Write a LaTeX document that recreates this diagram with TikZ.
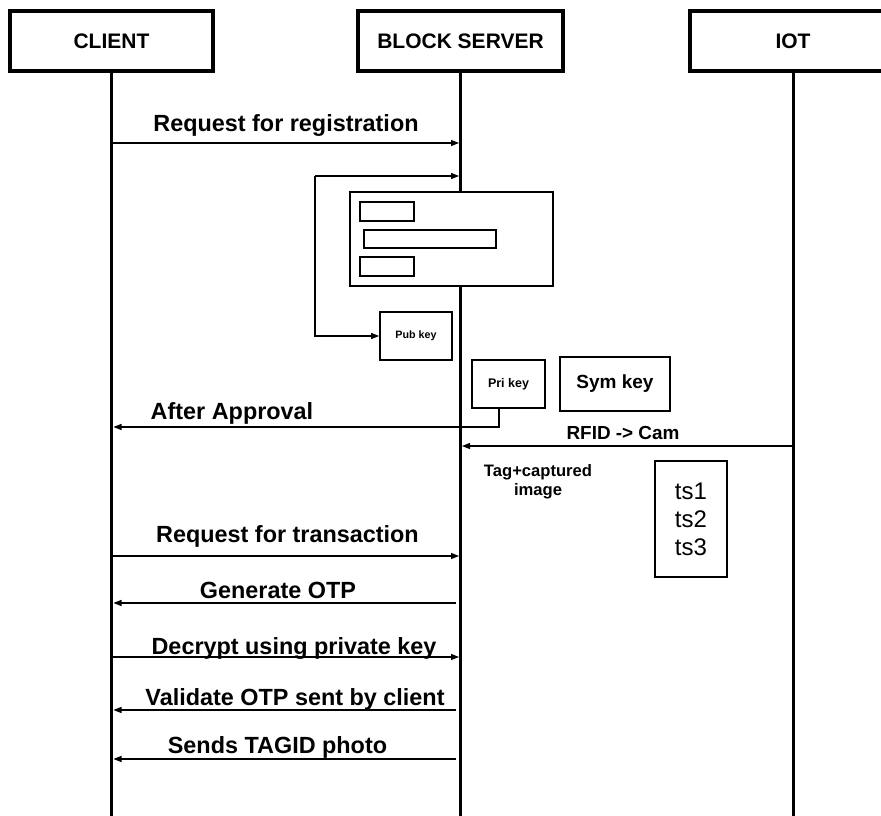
\documentclass[tikz,border=0pt]{standalone}
\usepackage{fontspec}
\setmainfont{Liberation Sans}
\usetikzlibrary{arrows.meta,positioning}
\tikzset{
  lifebox/.style={draw=black, line width=3.5pt, fill=white, minimum width=203pt,
    minimum height=60pt, font=\fontsize{21}{24}\selectfont\bfseries},
  lifeline/.style={line width=3pt},
  msg/.style={-{Triangle[length=8pt,width=6pt]}, line width=1.2pt},
  msglabel/.style={anchor=base, font=\fontsize{23.4}{26}\selectfont\bfseries},
  keybox/.style={draw=black, line width=1.8pt, fill=white, inner sep=0pt},
  slot/.style={draw=black, line width=2pt, fill=white, inner sep=0pt}
}
\begin{document}
\begin{tikzpicture}[x=1pt, y=-1pt]
  \useasboundingbox[fill=white] (0,0) rectangle (881,816);
  % participants
  \node[lifebox] (client) at (111.5,41) {CLIENT};
  \node[lifebox, minimum width=205pt] (server) at (460.5,41) {BLOCK SERVER};
  \node[lifebox, minimum width=206pt] (iot) at (793,41) {IOT};
  \coordinate (clientEnd) at (client |- 0,816);
  \coordinate (serverEnd) at (server |- 0,816);
  \coordinate (iotEnd) at (iot |- 0,816);
  \draw[lifeline] (client.south) -- (clientEnd);
  \draw[lifeline] (server.south) -- (serverEnd);
  \draw[lifeline] (iot.south) -- (iotEnd);

  % registration
  \coordinate (c1) at (client |- 0,143);
  \coordinate (s1) at ([xshift=-1.5pt]server |- 0,143);
  \draw[msg] (c1) -- (s1);
  \node[msglabel] (reglbl) at (286,131) {Request for registration};

  % block record
  \coordinate (loopTop) at (315,176);
  \coordinate (loopBot) at (315,336);
  \coordinate (s2) at ([xshift=-1.5pt]server |- loopTop);
  \node[keybox, minimum width=203pt, minimum height=94pt] (block) at (451.5,239) {};
  \node[slot, minimum width=54pt, minimum height=19pt] (slotA) at (387,211.5) {};
  \node[slot, minimum width=132pt, minimum height=18pt] (slotB) at (430,239) {};
  \node[slot, minimum width=54pt, minimum height=19pt] (slotC) at (387,266.5) {};
  \node[keybox, minimum width=72pt, minimum height=48pt,
    font=\fontsize{10.7}{12}\selectfont\bfseries] (pubkey) at (416,336) {Pub key};
  \draw[msg] (loopTop) -- (s2);
  \draw[msg] (loopTop) -- (loopBot) -- (pubkey.west);

  % keys
  \node[keybox, minimum width=73pt, minimum height=48pt,
    font=\fontsize{12.5}{14}\selectfont\bfseries] (prikey) at (508.5,384) {Pri key};
  \node[keybox, minimum width=110pt, minimum height=54pt,
    font=\fontsize{19}{22}\selectfont\bfseries] (symkey) at (615,384) {Sym key};

  % approval
  \coordinate (appr) at (499,427);
  \coordinate (c3) at ([xshift=2pt]client |- appr);
  \draw[msg] (prikey.south -| appr) -- (appr) -- (c3);
  \node[msglabel] (apprlbl) at (232,419) {After Approval};

  % iot
  \coordinate (i4) at (iot |- 0,446);
  \coordinate (s4) at ([xshift=1.5pt]server |- i4);
  \draw[msg] (i4) -- (s4);
  \node[msglabel, font=\fontsize{18.9}{22}\selectfont\bfseries] (rfidlbl) at (623,439) {RFID -> Cam};
  \node[align=center, font=\fontsize{16.6}{19}\selectfont\bfseries] (taglbl) at (538,482) {Tag+captured\\image};
  \node[draw=black, line width=1.8pt, minimum width=72pt, minimum height=116pt,
    align=center, font=\fontsize{24}{28}\selectfont] (stamps) at (691,519) {ts1\\ts2\\ts3};

  % transaction
  \coordinate (c5) at (client |- 0,556);
  \coordinate (s5) at ([xshift=-1.5pt]server |- c5);
  \draw[msg] (c5) -- (s5);
  \node[msglabel] (txlbl) at (287.5,542) {Request for transaction};

  \coordinate (s6) at ([xshift=-5pt]server |- 0,603);
  \coordinate (c6) at ([xshift=2pt]client |- s6);
  \draw[msg] (s6) -- (c6);
  \node[msglabel] (otplbl) at (278,598) {Generate OTP};

  \coordinate (c7) at (client |- 0,657);
  \coordinate (s7) at ([xshift=-1.5pt]server |- c7);
  \draw[msg] (c7) -- (s7);
  \node[msglabel] (declbl) at (294,654) {Decrypt using private key};

  \coordinate (s8) at ([xshift=-5pt]server |- 0,710);
  \coordinate (c8) at ([xshift=2pt]client |- s8);
  \draw[msg] (s8) -- (c8);
  \node[msglabel] (vallbl) at (295,705) {Validate OTP sent by client};

  \coordinate (s9) at ([xshift=-5pt]server |- 0,759);
  \coordinate (c9) at ([xshift=2pt]client |- s9);
  \draw[msg] (s9) -- (c9);
  \node[msglabel] (photolbl) at (277.5,753) {Sends TAGID photo};
\end{tikzpicture}
\end{document}
